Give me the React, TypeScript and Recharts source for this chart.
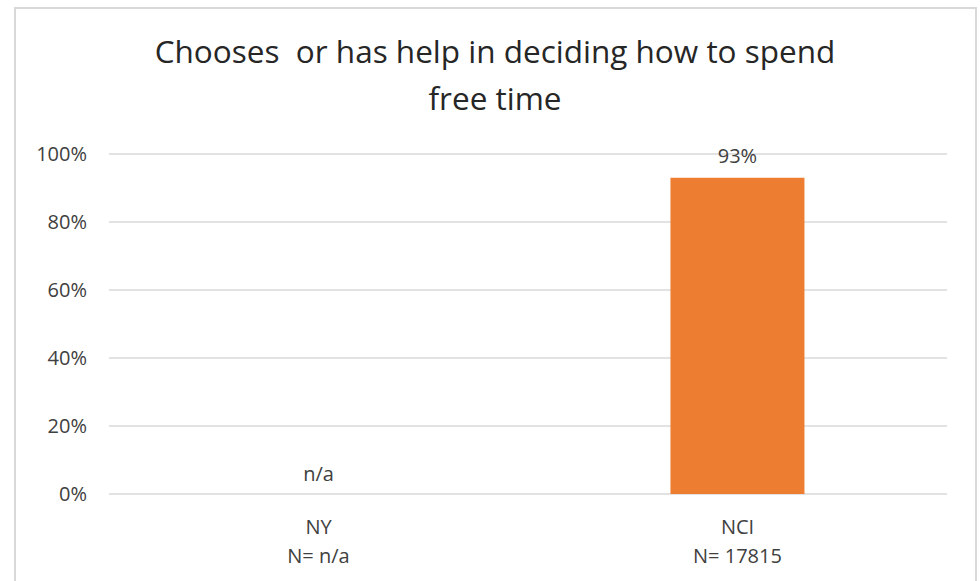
import React from 'react';
import { BarChart, Bar, XAxis, YAxis, CartesianGrid, LabelList, ReferenceDot } from 'recharts';

const categories = ['NY', 'NCI'];
const sampleSizes = ['N= n/a', 'N= 17815'];
const values: (number | null)[] = [null, 93];
const valueLabels = ['n/a', '93%'];
const yTicks = [0, 20, 40, 60, 80, 100];

const data = categories.map((c, i) => ({
  name: c,
  n: sampleSizes[i],
  value: values[i],
  label: valueLabels[i],
}));

const FONT = '"Open Sans", "Noto Sans", sans-serif';

const CategoryTick = ({ x, y, payload, index }: any) => (
  <text x={x} y={y} textAnchor="middle" fill="#404040" fontSize={20} fontFamily={FONT}>
    <tspan x={x} dy={32}>{payload.value}</tspan>
    <tspan x={x} dy={29}>{data[index] ? data[index].n : ''}</tspan>
  </text>
);

const App: React.FC = () => {
  return (
    <div style={{ position: 'absolute', left: 0, top: 0, width: 980, height: 581, background: '#fff', overflow: 'hidden' }}>
      <div
        style={{
          position: 'absolute',
          left: 14,
          top: 7,
          width: 959,
          height: 590,
          border: '2px solid #d9d9d9',
        }}
      />
      <div
        style={{
          position: 'absolute',
          left: 15,
          top: 27,
          width: 960,
          textAlign: 'center',
          fontFamily: FONT,
          fontSize: 31.5,
          lineHeight: '47px',
          color: '#262626',
        }}
      >
        Chooses&nbsp; or has help in deciding how to spend
        <br />
        free time
      </div>
      <div style={{ position: 'absolute', left: 0, top: 0 }}>
        <BarChart
          width={980}
          height={581}
          data={data}
          margin={{ top: 154, right: 33, bottom: 27, left: 49 }}
          barCategoryGap="34%"
        >
          <CartesianGrid vertical={false} stroke="#d9d9d9" strokeWidth={1.5} />
          <XAxis
            dataKey="name"
            axisLine={false}
            tickLine={false}
            height={60}
            interval={0}
            tick={<CategoryTick />}
          />
          <YAxis
            domain={[0, 100]}
            ticks={yTicks}
            width={60}
            axisLine={false}
            tickLine={false}
            tickSize={6}
            tickMargin={16}
            tickFormatter={(v) => `${v}%`}
            tick={{ fill: '#404040', fontSize: 20, fontFamily: FONT }}
          />
          <Bar dataKey="value" fill="#ED7D31" isAnimationActive={false}>
            <LabelList
              dataKey="label"
              position="top"
              offset={15}
              fill="#404040"
              fontSize={20}
              fontFamily={FONT}
            />
          </Bar>
          {data
            .filter((d) => d.value === null)
            .map((d) => (
              <ReferenceDot
                key={d.name}
                x={d.name}
                y={0}
                r={0}
                fill="none"
                stroke="none"
                label={{
                  value: d.label,
                  position: 'top',
                  offset: 13,
                  fill: '#404040',
                  fontSize: 20,
                  fontFamily: FONT,
                }}
              />
            ))}
        </BarChart>
      </div>
    </div>
  );
};

export default App;
